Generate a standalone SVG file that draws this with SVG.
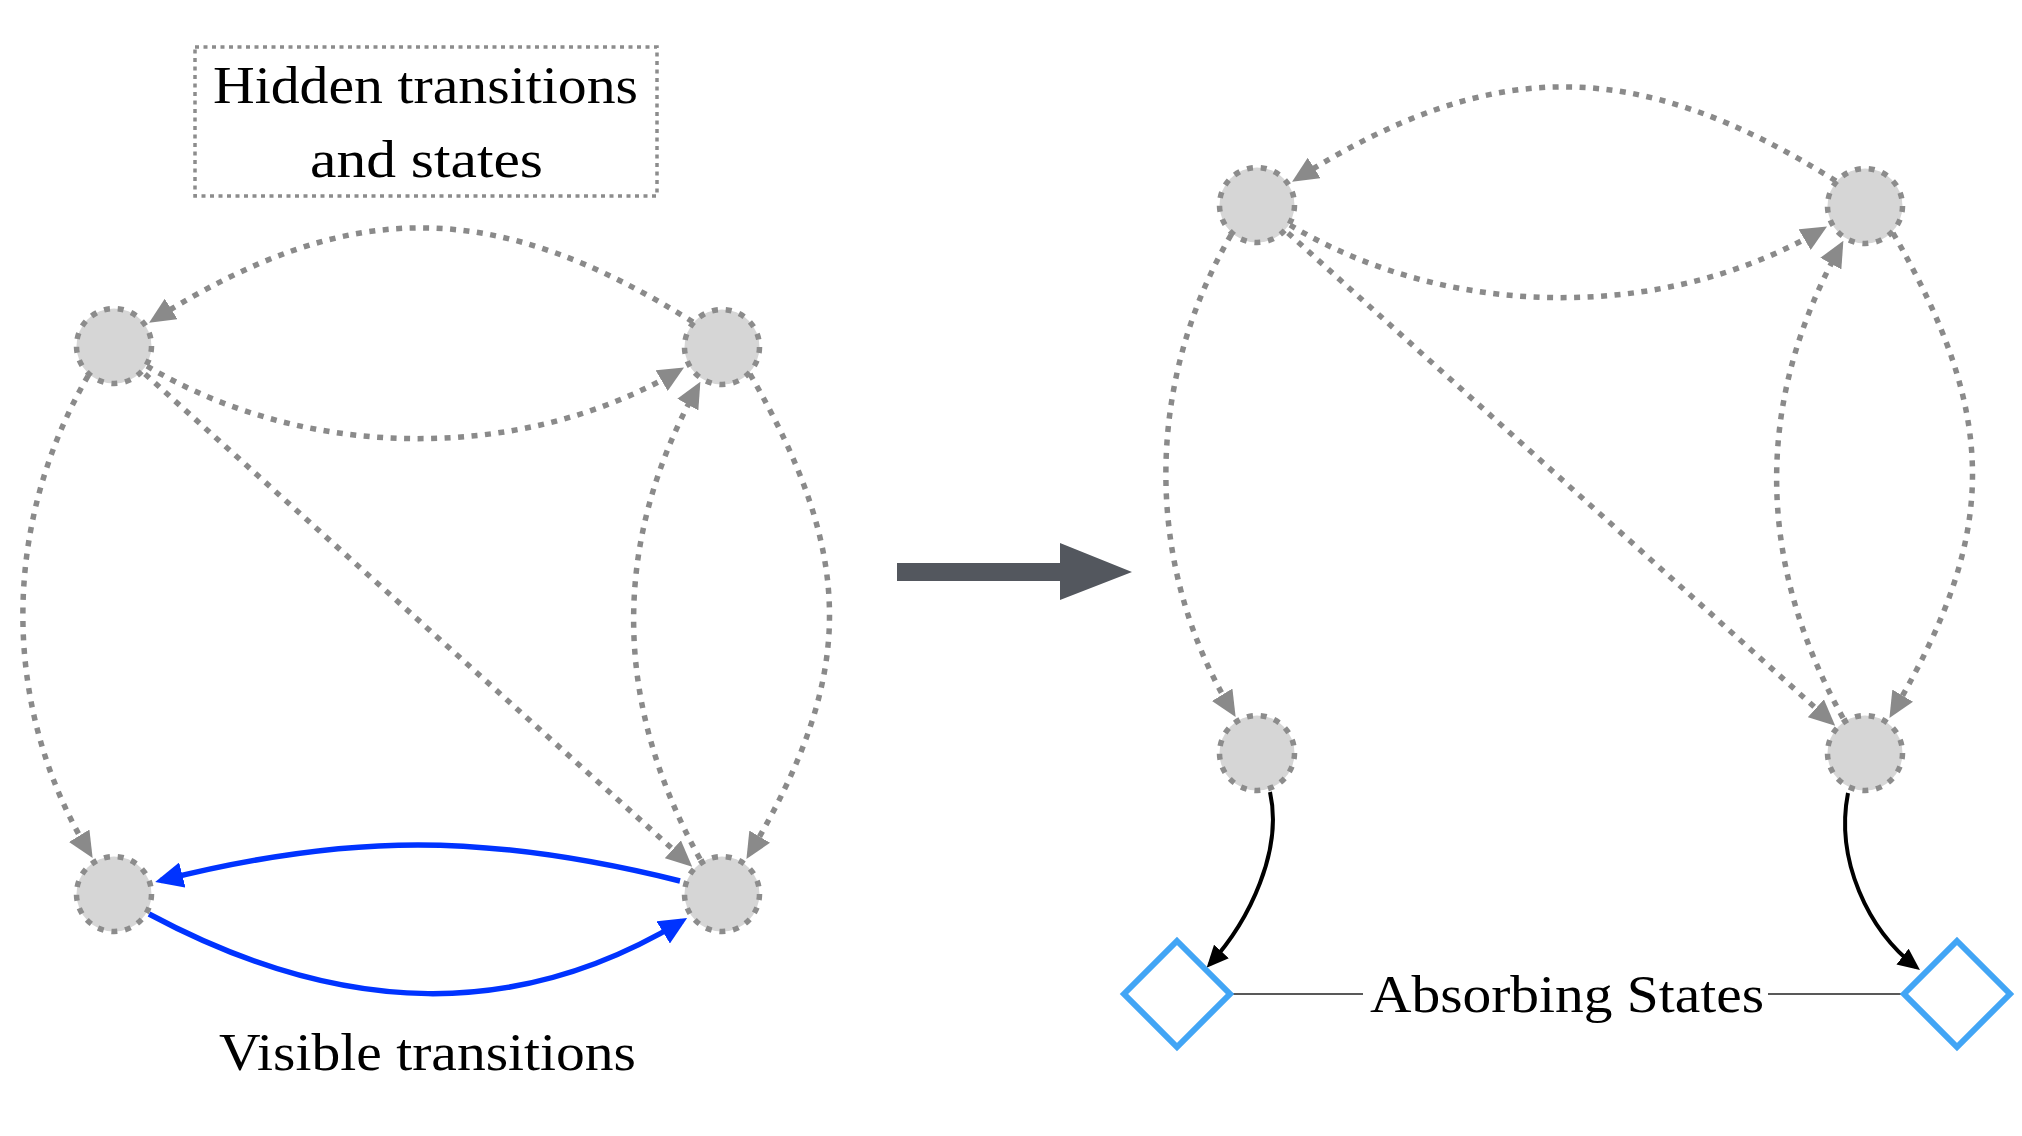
<svg xmlns="http://www.w3.org/2000/svg" width="2022" height="1136" viewBox="0 0 2022 1136">
<style>
.node{fill:#d6d6d6;stroke:#8c8c8c;stroke-width:5.5;stroke-dasharray:6 7.86}
.hid{fill:none;stroke:#8a8a8a;stroke-width:5.5;stroke-dasharray:6 7.5;marker-end:url(#ag)}
.vis{fill:none;stroke:#0033ff;stroke-width:5.5;marker-end:url(#ab)}
.abs{fill:none;stroke:#000;stroke-width:4;marker-end:url(#ak)}
.dia{fill:#fff;stroke:#42a5f5;stroke-width:6}
.lbl{font-family:"Liberation Serif","Times New Roman",serif;font-size:53px;fill:#000;text-anchor:start}
</style>
<defs>
<marker id="ag" markerUnits="userSpaceOnUse" markerWidth="26" markerHeight="24" refX="19" refY="12" orient="auto"><path d="M0,0 L26,12 L0,24 Z" fill="#8a8a8a"/></marker>
<marker id="ab" markerUnits="userSpaceOnUse" markerWidth="28" markerHeight="26" refX="22" refY="13" orient="auto"><path d="M0,0 L28,13 L0,26 Z" fill="#0033ff"/></marker>
<marker id="ak" markerUnits="userSpaceOnUse" markerWidth="22" markerHeight="20" refX="17" refY="10" orient="auto"><path d="M0,0 L22,10 L0,20 Z" fill="#000"/></marker>
</defs>
<rect width="2022" height="1136" fill="#fff"/>

<g id="hidden-box">
<rect x="195" y="47" width="462" height="149" fill="none" stroke="#8c8c8c" stroke-width="3.5" stroke-dasharray="4 4.5"/>
<text class="lbl" x="213" y="103" textLength="425" lengthAdjust="spacingAndGlyphs">Hidden transitions</text>
<text class="lbl" x="310" y="177" textLength="233" lengthAdjust="spacingAndGlyphs">and states</text>
</g>

<g id="connectors">
<g id="left-edges">
<path class="hid" d="M693,322 C493,197 350,197 155,319"/>
<path class="hid" d="M147,366 C307,462 523,462 678,371"/>
<path class="hid" d="M145,374 L687,862"/>
<path class="hid" d="M88,376 C1,526 1,707 89,852"/>
<path class="hid" d="M700,859 C612,700 612,542 697,388"/>
<path class="hid" d="M750,374 C856,558 856,674 750,853"/>
<path class="vis" d="M680,881 C487,833 348,833 161,880.5"/>
<path class="vis" d="M149,914 C345,1019 520,1019 682,921"/>
</g>
<g id="right-edges" transform="translate(1143,-141)">
<path class="hid" d="M693,322 C493,197 350,197 155,319"/>
<path class="hid" d="M147,366 C307,462 523,462 678,371"/>
<path class="hid" d="M145,374 L687,862"/>
<path class="hid" d="M88,376 C1,526 1,707 89,852"/>
<path class="hid" d="M700,859 C612,700 612,542 697,388"/>
<path class="hid" d="M750,374 C856,558 856,674 750,853"/>
</g>
<path class="abs" d="M1270,792 C1283,850 1250,920 1210,964"/>
<path class="abs" d="M1848,793 C1835,860 1868,930 1916,967"/>
<line x1="1230" y1="994" x2="1363" y2="994" stroke="#222" stroke-width="1.4"/>
<line x1="1768" y1="994" x2="1903" y2="994" stroke="#222" stroke-width="1.4"/>
</g>

<g id="big-arrow">
<polygon points="897,563 1060,563 1060,543 1132,572 1060,600 1060,581 897,581" fill="#53575e"/>
</g>

<g id="n-l1"><circle class="node" cx="114" cy="346" r="37.5"/></g>
<g id="n-l2"><circle class="node" cx="722" cy="347" r="37.5"/></g>
<g id="n-l3"><circle class="node" cx="114" cy="894" r="37.5"/></g>
<g id="n-l4"><circle class="node" cx="722" cy="894" r="37.5"/></g>
<g id="n-r1"><circle class="node" cx="1257" cy="205" r="37.5"/></g>
<g id="n-r2"><circle class="node" cx="1865" cy="206" r="37.5"/></g>
<g id="n-r3"><circle class="node" cx="1257" cy="753" r="37.5"/></g>
<g id="n-r4"><circle class="node" cx="1865" cy="753" r="37.5"/></g>

<g id="abs-left"><path class="dia" d="M1177,941 L1230,994 L1177,1047 L1124,994 Z"/></g>
<g id="abs-right"><path class="dia" d="M1957,941 L2010,994 L1957,1047 L1904,994 Z"/></g>

<g id="labels">
<text class="lbl" x="1370" y="1012" textLength="394" lengthAdjust="spacingAndGlyphs">Absorbing States</text>
<text class="lbl" x="219" y="1070" textLength="417" lengthAdjust="spacingAndGlyphs">Visible transitions</text>
</g>
</svg>
